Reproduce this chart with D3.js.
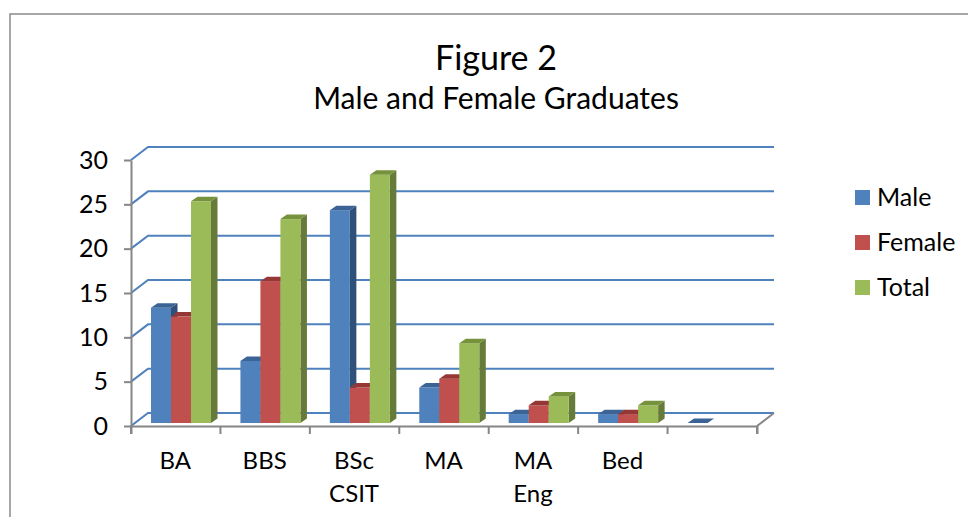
<!DOCTYPE html>
<html>
<head>
<meta charset="utf-8">
<script src="https://cdn.jsdelivr.net/npm/d3@7"></script>
<style>
  html, body { margin: 0; padding: 0; background: #fff; overflow: hidden; }
  text { font-family: Lato, "Open Sans", sans-serif; fill: #000; }
</style>
</head>
<body>
<svg id="chart" width="968" height="517"></svg>
<script>
const categories = ['BA', 'BBS', 'BSc CSIT', 'MA', 'MA Eng', 'Bed', ''];
const seriesNames = ['Male', 'Female', 'Total'];
const male = [13, 7, 24, 4, 1, 1, 0];
const female = [12, 16, 4, 5, 2, 1, null];
const total = [25, 23, 28, 9, 3, 2, null];
const yTicks = [0, 5, 10, 15, 20, 25, 30];

const seriesValues = [male, female, total];
const frontColors = ['#4f81bd', '#c0504d', '#9bbb59'];
const topColors = ['#3b6395', '#953735', '#76923c'];
const sideColors = ['#2f5078', '#7f3331', '#667b3a'];

const axisColor = '#868686',
    gridColor = '#4f81bd',
    depthX = 17,        // offset of the back wall
    depthY = -13,
    barDepthX = 6.5,    // offset of a bar's back face
    barDepthY = -4.5,
    barFloorShift = -3; // bars stand a little behind the front axis

const svg = d3.select('#chart');

// Outer chart border, cropped by the picture on the right and bottom
svg.append('path')
    .attr('d', 'M10,517V14H968')
    .attr('fill', 'none')
    .attr('stroke', '#8a8a8a')
    .attr('stroke-width', 1.5);

// Titles
svg.append('text')
    .attr('x', 496).attr('y', 70)
    .attr('text-anchor', 'middle')
    .attr('font-size', 34)
    .text('Figure 2');

svg.append('text')
    .attr('x', 496).attr('y', 109)
    .attr('text-anchor', 'middle')
    .attr('font-size', 30)
    .text('Male and Female Graduates');

const x = d3.scaleBand().domain(d3.range(categories.length)).range([131, 757]);
const y = d3.scaleLinear().domain([0, 30]).range([426, 160]);
const xBar = d3.scaleBand().domain(d3.range(seriesNames.length))
    .range([20, 20 + 60]);

// Back wall gridlines with their slanted part on the side wall
svg.append('g').selectAll('path')
    .data(yTicks)
    .join('path')
    .attr('d', d => 'M' + x.range()[0] + ',' + y(d)
        + 'l' + depthX + ',' + depthY
        + 'H' + (x.range()[1] + depthX))
    .attr('fill', 'none')
    .attr('stroke', gridColor)
    .attr('stroke-width', 2);

// Floor edge on the right
svg.append('path')
    .attr('d', 'M' + x.range()[1] + ',' + y(0) + 'l' + depthX + ',' + depthY)
    .attr('fill', 'none')
    .attr('stroke', axisColor)
    .attr('stroke-width', 2);

// Bars
const barGroups = svg.append('g').selectAll('g')
    .data(categories)
    .join('g')
    .attr('transform', (d, i) => 'translate(' + x(i) + ',0)');

barGroups.each(function (d, i) {
    const group = d3.select(this);
    seriesValues.forEach(function (values, s) {
        if (values[i] === null) return;
        const left = xBar(s),
            w = xBar.bandwidth(),
            right = left + w,
            top = y(values[i]) + barFloorShift,
            bottom = y(0) + barFloorShift;

        if (values[i] > 0) {
            group.append('path') // side face
                .attr('fill', sideColors[s])
                .attr('d', 'M' + right + ',' + top
                    + 'l' + barDepthX + ',' + barDepthY
                    + 'V' + (bottom + barDepthY)
                    + 'L' + right + ',' + bottom + 'Z');
            group.append('rect') // front face
                .attr('x', left).attr('y', top)
                .attr('width', w).attr('height', bottom - top)
                .attr('fill', frontColors[s]);
        }
        group.append('path') // top face
            .attr('fill', topColors[s])
            .attr('d', 'M' + left + ',' + top
                + 'l' + barDepthX + ',' + barDepthY
                + 'h' + w
                + 'L' + right + ',' + top + 'Z');
    });
});

// Axes
const yAxis = svg.append('g')
    .attr('transform', 'translate(' + x.range()[0] + ',0)')
    .call(d3.axisLeft(y).tickValues(yTicks).tickSize(7).tickSizeOuter(0).tickPadding(16));

const xAxis = svg.append('g')
    .attr('transform', 'translate(0,' + y(0) + ')')
    .call(d3.axisBottom(x).tickValues([]).tickSize(8).tickSizeOuter(8));

xAxis.selectAll('.tick')
    .data(d3.range(categories.length + 1))
    .join('g')
    .attr('class', 'tick')
    .attr('transform', d => 'translate(' + (x.range()[0] + d * x.step()) + ',0)')
    .append('line')
    .attr('y2', 8);

[yAxis, xAxis].forEach(function (axis) {
    axis.selectAll('path, line')
        .attr('stroke', axisColor)
        .attr('stroke-width', 2);
});

yAxis.selectAll('text')
    .attr('font-size', 25)
    .attr('font-family', 'Lato')
    .attr('fill', '#000');

// Category labels, wrapped on the space
const labels = svg.append('g').selectAll('text')
    .data(categories)
    .join('text')
    .attr('text-anchor', 'middle')
    .attr('font-size', 24);

labels.each(function (d, i) {
    const node = d3.select(this);
    d.split(' ').forEach(function (word, n) {
        node.append('tspan')
            .attr('x', x(i) + x.bandwidth() / 2 - 0.5)
            .attr('y', 469 + n * 33)
            .text(word);
    });
});

// Legend
const legend = svg.append('g').selectAll('g')
    .data(seriesNames)
    .join('g')
    .attr('transform', (d, i) => 'translate(855,' + (190 + i * 45) + ')');

legend.append('rect')
    .attr('width', 15).attr('height', 15)
    .attr('fill', (d, i) => frontColors[i]);

legend.append('text')
    .attr('x', 22).attr('y', 16)
    .attr('font-size', 25)
    .text(d => d);
</script>
</body>
</html>
